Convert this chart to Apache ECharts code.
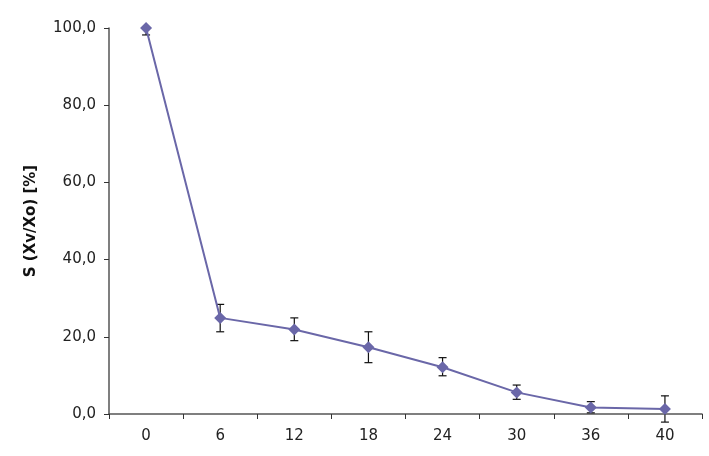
<!DOCTYPE html>
<html>
<head>
<meta charset="utf-8">
<script src="https://cdn.jsdelivr.net/npm/echarts@6/dist/echarts.min.js"></script>
<style>html,body{margin:0;padding:0;background:#fff}#c{width:709px;height:456px}</style>
</head>
<body>
<div id="c"></div>
<script>
var categories = ['0', '6', '12', '18', '24', '30', '36', '40'];
var values = [100, 24.9, 21.9, 17.3, 12.1, 5.6, 1.7, 1.3];
var errUp = [0, 3.5, 3.0, 4.0, 2.5, 1.9, 1.5, 3.4];
var errDown = [1.8, 3.6, 2.9, 4.0, 2.2, 1.8, 1.4, 3.4];
var yTicks = [0, 20, 40, 60, 80, 100];

var errData = values.map(function (v, i) { return [i, v - errDown[i], v + errUp[i], v]; });
var FONT = 'DejaVu Sans, Arial, sans-serif';

var chart = echarts.init(document.getElementById('c'), null, {renderer: 'canvas'});
chart.setOption({
  animation: false,
  backgroundColor: '#fff',
  grid: {left: 109, right: 7, top: 28, bottom: 42, containLabel: false},
  xAxis: {
    type: 'category',
    data: categories,
    boundaryGap: true,
    axisLine: {lineStyle: {color: '#555', width: 1.5}},
    axisTick: {show: true, length: 5, inside: false, lineStyle: {color: '#333'}},
    axisLabel: {color: '#222', fontFamily: FONT, fontSize: 15, margin: 15},
    splitLine: {show: false}
  },
  yAxis: {
    type: 'value',
    min: yTicks[0], max: yTicks[yTicks.length - 1], interval: 20,
    name: 'S (Xv/Xo) [%]',
    nameLocation: 'middle',
    nameRotate: 90,
    nameGap: 70,
    nameTextStyle: {color: '#111', fontFamily: FONT, fontSize: 15, fontWeight: 'bold'},
    axisLine: {show: true, lineStyle: {color: '#555', width: 1.5}},
    axisTick: {show: true, length: 5, lineStyle: {color: '#333'}},
    axisLabel: {
      color: '#222', fontFamily: FONT, fontSize: 15, margin: 13,
      formatter: function (v) { return v.toFixed(1).replace('.', ','); }
    },
    splitLine: {show: false}
  },
  series: [
    {
      type: 'custom',
      z: 1,
      data: errData,
      clip: false,
      renderItem: function (params, api) {
        var i = api.value(0);
        var lo = api.coord([i, api.value(1)]);
        var hi = api.coord([i, api.value(2)]);
        var mid = api.coord([i, api.value(3)]);
        var w = 4;
        var style = {stroke: '#111', lineWidth: 1.2};
        var children = [{type: 'line', shape: {x1: lo[0], y1: lo[1], x2: hi[0], y2: hi[1]}, style: style}];
        if (Math.abs(hi[1] - mid[1]) > 0.5) children.push({type: 'line', shape: {x1: hi[0] - w, y1: hi[1], x2: hi[0] + w, y2: hi[1]}, style: style});
        if (Math.abs(lo[1] - mid[1]) > 0.5) children.push({type: 'line', shape: {x1: lo[0] - w, y1: lo[1], x2: lo[0] + w, y2: lo[1]}, style: style});
        return {type: 'group', children: children};
      }
    },
    {
      type: 'line',
      z: 3,
      data: values,
      symbol: 'diamond',
      symbolSize: 12,
      lineStyle: {color: '#6a67a8', width: 2},
      itemStyle: {color: '#6a67a8'}
    }
  ]
});
</script>
</body>
</html>
